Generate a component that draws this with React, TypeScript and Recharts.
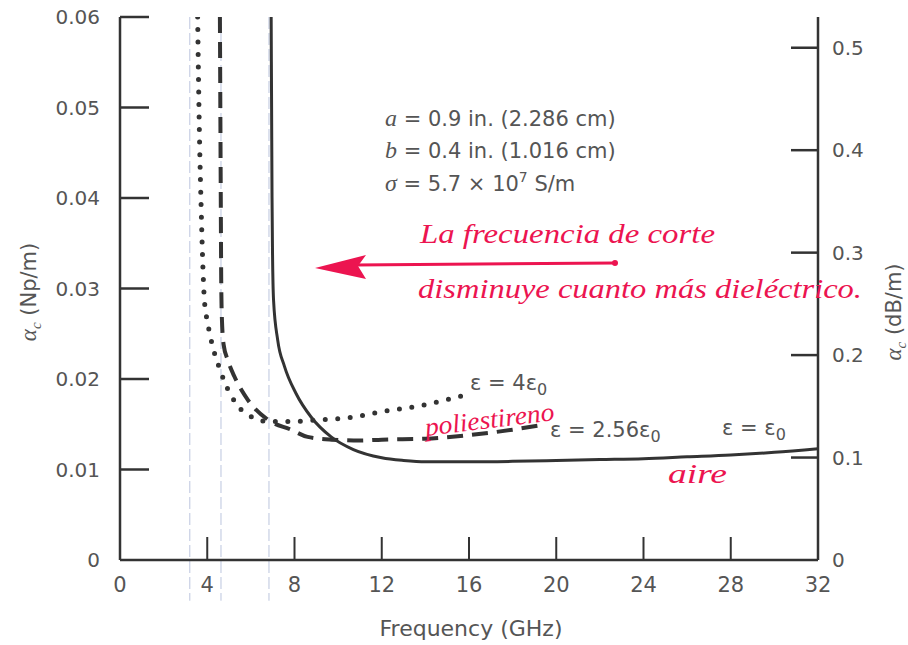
import { Line, LineChart, ReferenceLine, XAxis, YAxis } from 'recharts';

// frequency axis (GHz) and the two attenuation scales
const freqTicks = [0, 4, 8, 12, 16, 20, 24, 28, 32];
const npTicks = [0, 0.01, 0.02, 0.03, 0.04, 0.05, 0.06];
const dbTicks = [0, 0.1, 0.2, 0.3, 0.4, 0.5];

// ε = ε0 (aire), solid
const airFreq = [6.93, 6.95, 6.97, 6.99, 7.04, 7.23, 7.54, 8.07, 8.76, 9.68, 10.7, 12, 13, 14, 16, 18, 20, 22, 24, 26, 28, 30, 32];
const airAlpha = [0.06, 0.05, 0.04, 0.0345, 0.0287, 0.0243, 0.0214, 0.0184, 0.0158, 0.0136, 0.0122, 0.0113, 0.011, 0.01085, 0.01085, 0.0109, 0.011, 0.0111, 0.0112, 0.0114, 0.0116, 0.0119, 0.0123];

// ε = 2.56ε0 (poliestireno), dashed
const polyFreq = [4.58, 4.6, 4.62, 4.64, 4.67, 4.75, 4.94, 5.24, 5.86, 6.78, 7.84, 8.6, 9.7, 11, 12, 14, 16, 18, 19.3];
const polyAlpha = [0.06, 0.05, 0.04, 0.031, 0.0268, 0.0238, 0.0221, 0.0203, 0.0177, 0.0155, 0.0144, 0.0136, 0.0133, 0.0132, 0.0133, 0.0134, 0.0138, 0.0144, 0.0149];

// ε = 4ε0, dotted
const diFreq = [3.56, 3.6, 3.65, 3.72, 3.79, 3.87, 4.02, 4.25, 4.56, 4.79, 5.32, 6.17, 6.78, 7.84, 9.22, 10.75, 12, 13.65, 16.1];
const diAlpha = [0.06, 0.053, 0.046, 0.039, 0.0331, 0.0287, 0.0262, 0.0236, 0.0212, 0.0197, 0.0173, 0.01566, 0.0153, 0.0153, 0.0155, 0.0158, 0.0164, 0.017, 0.0184];

// cutoff frequencies (thin dashed verticals)
const cutoffFreq = [3.2, 4.63, 6.83];

const toPoints = (f: number[], a: number[]) => f.map((x, i) => ({ f: x, a: a[i] }));

const W = 908;
const H = 645;
const PLOT_LEFT = 120;
const PLOT_RIGHT = 818;
const PLOT_TOP = 17;
const PLOT_BOTTOM = 560;
const INK = '#333333';
const TEXT = '#555555';
const RED = '#ec1450';
const FONT = '"DejaVu Sans", sans-serif';
const HAND = '"Liberation Serif", serif';

const LeftTick = ({ y, payload }: any) => (
  <g>
    {payload.value !== 0 && (
      <line x1={PLOT_LEFT} x2={PLOT_LEFT + 29} y1={y} y2={y} stroke={INK} strokeWidth={2.5} />
    )}
    <text x={PLOT_LEFT - 20} y={y} dy={7} textAnchor="end" fontSize={20} fill={TEXT} fontFamily={FONT}>
      {payload.value}
    </text>
  </g>
);

const RightTick = ({ y, payload }: any) => (
  <g>
    {payload.value !== 0 && (
      <line x1={PLOT_RIGHT - 27} x2={PLOT_RIGHT} y1={y} y2={y} stroke={INK} strokeWidth={2.5} />
    )}
    <text x={PLOT_RIGHT + 14} y={y} dy={7} textAnchor="start" fontSize={20} fill={TEXT} fontFamily={FONT}>
      {payload.value}
    </text>
  </g>
);

const BottomTick = ({ x, payload }: any) => (
  <g>
    {payload.value !== 0 && payload.value !== 32 && (
      <line x1={x} x2={x} y1={PLOT_BOTTOM - 23} y2={PLOT_BOTTOM} stroke={INK} strokeWidth={2} />
    )}
    <text x={x} y={PLOT_BOTTOM + 32} textAnchor="middle" fontSize={21} fill={TEXT} fontFamily={FONT}>
      {payload.value}
    </text>
  </g>
);

export default function App() {
  return (
    <div style={{ position: 'absolute', left: 0, top: 0, width: W, height: H, background: '#fff' }}>
      <LineChart width={W} height={H} margin={{ top: PLOT_TOP, right: 0, bottom: 0, left: 0 }}>
        <XAxis
          dataKey="f"
          type="number"
          domain={[0, 32]}
          ticks={freqTicks}
          interval={0}
          height={H - PLOT_BOTTOM}
          tickLine={false}
          tickSize={0}
          tick={<BottomTick />}
          axisLine={{ stroke: INK, strokeWidth: 2.5 }}
          allowDataOverflow
        />
        <YAxis
          yAxisId="left"
          type="number"
          domain={[0, 0.06]}
          ticks={npTicks}
          interval={0}
          width={PLOT_LEFT}
          tickLine={false}
          tickSize={0}
          tick={<LeftTick />}
          axisLine={{ stroke: INK, strokeWidth: 2.5 }}
          allowDataOverflow
        />
        <YAxis
          yAxisId="right"
          orientation="right"
          type="number"
          domain={[0, 0.53]}
          ticks={dbTicks}
          interval={0}
          width={W - PLOT_RIGHT}
          tickLine={false}
          tickSize={0}
          tick={<RightTick />}
          axisLine={{ stroke: INK, strokeWidth: 2.5 }}
          allowDataOverflow
        />
        {cutoffFreq.map((fc) => (
          <ReferenceLine
            key={fc}
            yAxisId="left"
            segment={[
              { x: fc, y: 0.06 },
              { x: fc, y: -0.0045 },
            ]}
            ifOverflow="visible"
            stroke="#bcc5de"
            strokeWidth={1}
            strokeDasharray="12 4"
          />
        ))}
        <Line
          yAxisId="left"
          data={toPoints(diFreq, diAlpha)}
          dataKey="a"
          type="monotone"
          stroke={INK}
          strokeWidth={5}
          strokeDasharray="0 12.5"
          strokeLinecap="round"
          dot={false}
          activeDot={false}
          isAnimationActive={false}
        />
        <Line
          yAxisId="left"
          data={toPoints(polyFreq, polyAlpha)}
          dataKey="a"
          type="monotone"
          stroke={INK}
          strokeWidth={4}
          strokeDasharray="16 9"
          dot={false}
          activeDot={false}
          isAnimationActive={false}
        />
        <Line
          yAxisId="left"
          data={toPoints(airFreq, airAlpha)}
          dataKey="a"
          type="monotone"
          stroke={INK}
          strokeWidth={3}
          dot={false}
          activeDot={false}
          isAnimationActive={false}
        />
      </LineChart>

      <svg
        width={W}
        height={H}
        style={{ position: 'absolute', left: 0, top: 0, pointerEvents: 'none' }}
        fontFamily={FONT}
      >
        {/* axis titles */}
        <text x={471} y={636} textAnchor="middle" fontSize={22} fill={TEXT}>
          Frequency (GHz)
        </text>
        <text transform="translate(36,292) rotate(-90)" textAnchor="middle" fontSize={21} fill={TEXT}>
          <tspan fontFamily={HAND} fontStyle="italic" fontSize={23}>α</tspan>
          <tspan fontFamily={HAND} fontStyle="italic" fontSize={15} dy={5}>c</tspan>
          <tspan dy={-5}> (Np/m)</tspan>
        </text>
        <text transform="translate(901,312) rotate(-90)" textAnchor="middle" fontSize={21} fill={TEXT}>
          <tspan fontFamily={HAND} fontStyle="italic" fontSize={23}>α</tspan>
          <tspan fontFamily={HAND} fontStyle="italic" fontSize={15} dy={5}>c</tspan>
          <tspan dy={-5}> (dB/m)</tspan>
        </text>

        {/* waveguide parameters */}
        <g fontSize={21} fill={TEXT}>
          <text x={385} y={126}>
            <tspan fontFamily={HAND} fontStyle="italic" fontSize={24}>a</tspan>
            <tspan> = 0.9 in. (2.286 cm)</tspan>
          </text>
          <text x={385} y={158}>
            <tspan fontFamily={HAND} fontStyle="italic" fontSize={24}>b</tspan>
            <tspan> = 0.4 in. (1.016 cm)</tspan>
          </text>
          <text x={385} y={191}>
            <tspan fontFamily={HAND} fontStyle="italic" fontSize={24}>σ</tspan>
            <tspan> = 5.7 × 10</tspan>
            <tspan fontSize={14} dy={-9}>7</tspan>
            <tspan dy={9}> S/m</tspan>
          </text>
        </g>

        {/* curve labels */}
        <g fontSize={21} fill={TEXT}>
          <text x={470} y={390}>
            <tspan>ε = 4ε</tspan>
            <tspan fontSize={16} dy={5}>0</tspan>
          </text>
          <text x={550} y={437}>
            <tspan>ε = 2.56ε</tspan>
            <tspan fontSize={16} dy={5}>0</tspan>
          </text>
          <text x={722} y={435}>
            <tspan>ε = ε</tspan>
            <tspan fontSize={16} dy={5}>0</tspan>
          </text>
        </g>

        {/* red handwritten notes */}
        <g fill={RED} fontFamily={HAND} fontStyle="italic">
          <text x={420} y={243} fontSize={28} textLength={295} lengthAdjust="spacingAndGlyphs">
            La frecuencia de corte
          </text>
          <text x={418} y={298} fontSize={28} textLength={444} lengthAdjust="spacingAndGlyphs">
            disminuye cuanto más dieléctrico.
          </text>
          <text
            x={426}
            y={436}
            fontSize={26}
            transform="rotate(-7 426 436)"
            textLength={130}
            lengthAdjust="spacingAndGlyphs"
          >
            poliestireno
          </text>
          <text x={668} y={483} fontSize={28} textLength={59} lengthAdjust="spacingAndGlyphs">
            aire
          </text>
        </g>
        <line x1={355} y1={265} x2={615} y2={263} stroke={RED} strokeWidth={3} />
        <circle cx={615} cy={263} r={3} fill={RED} />
        <polygon points="315,268 366,255 358,266 366,279" fill={RED} />
      </svg>
    </div>
  );
}
